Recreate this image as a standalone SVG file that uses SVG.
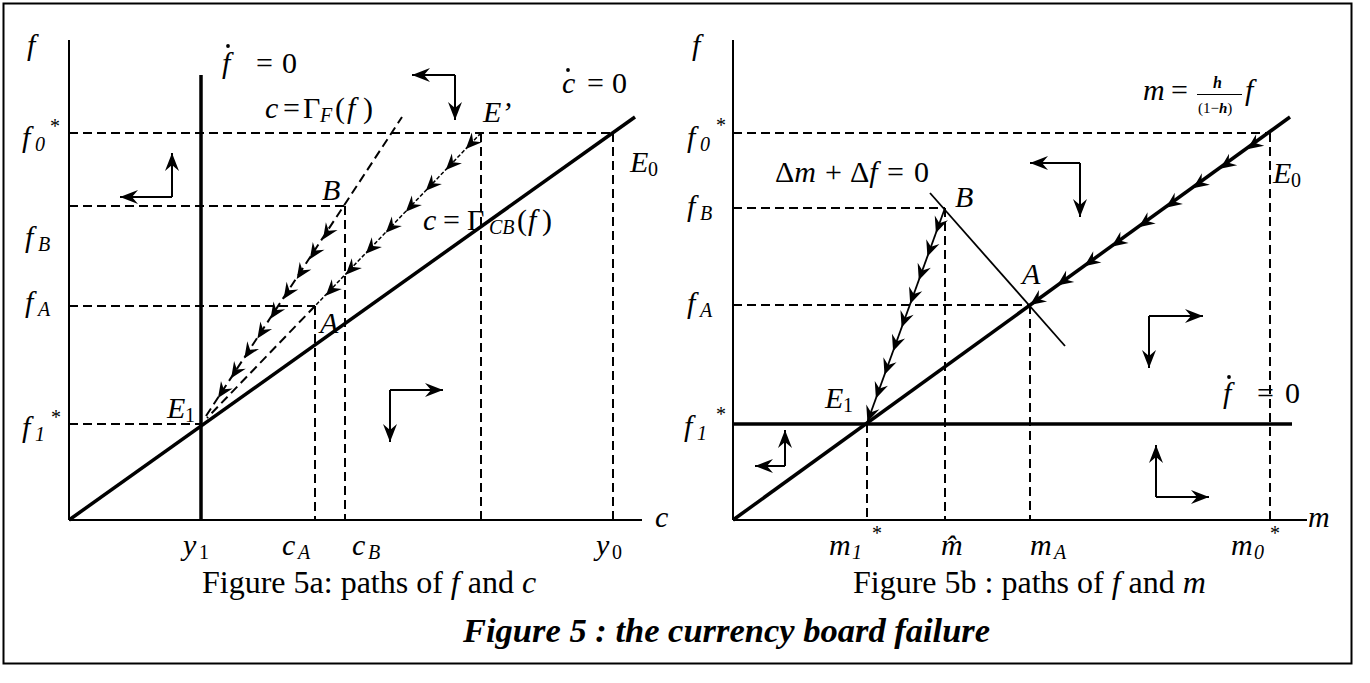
<svg xmlns="http://www.w3.org/2000/svg" width="1370" height="683" viewBox="0 0 1370 683">
<style>
text { font-family: 'Liberation Serif', 'Times New Roman', serif; fill: #000; }
.i { font-style: italic; }
.lbl { font-size: 30px; }
.sub { font-size: 20px; }
.ax { stroke: #000; stroke-width: 2; fill: none; }
.thick { stroke: #000; stroke-width: 3.5; fill: none; }
.thin { stroke: #000; stroke-width: 1.8; fill: none; }
.dash { stroke: #000; stroke-width: 2; stroke-dasharray: 9 5; fill: none; }
.dot { stroke: #000; stroke-width: 1.5; stroke-dasharray: 4 2; fill: none; }
.ph { stroke: #000; stroke-width: 2; fill: none; marker-end: url(#ph); }
.cap { font-size: 32px; }
.title { font-size: 34.5px; font-weight: bold; font-style: italic; }
</style>
<defs>
<marker id="ph" viewBox="-19 -8 20 16" refX="0" refY="0" markerWidth="20" markerHeight="16" markerUnits="userSpaceOnUse" orient="auto">
<path d="M0,0 L-18,-7 L-12,0 L-18,7 Z" fill="#000"/>
</marker>
<path id="pa" d="M0,0 L-16,-7 L-10.5,0 L-16,7 Z" fill="#000"/>
</defs>

<rect id="frame" x="3.5" y="3.5" width="1348" height="660" fill="none" stroke="#000" stroke-width="2"/>

<!-- ===== Panel a ===== -->
<g id="panel-a-axes">
<line class="ax" x1="69" y1="40" x2="69" y2="520"/>
<line class="ax" x1="69" y1="520" x2="642" y2="520"/>
<text class="lbl i" x="27" y="55">f</text>
<text class="lbl i" x="655" y="527">c</text>
</g>

<g id="panel-a-guides">
<line class="dash" x1="69" y1="133" x2="613" y2="133"/>
<line class="dash" x1="69" y1="206" x2="345" y2="206"/>
<line class="dash" x1="69" y1="306" x2="315" y2="306"/>
<line class="dash" x1="69" y1="424" x2="201" y2="424"/>
<line class="dash" x1="315" y1="306" x2="315" y2="520"/>
<line class="dash" x1="345" y1="206" x2="345" y2="520"/>
<line class="dash" x1="481" y1="133" x2="481" y2="520"/>
<line class="dash" x1="613" y1="133" x2="613" y2="520"/>
</g>

<g id="panel-a-curves">
<line class="thick" x1="201" y1="75" x2="201" y2="520"/>
<line class="thick" x1="69" y1="520" x2="635" y2="117"/>
<line class="dash" x1="206" y1="416" x2="402" y2="117"/>
<line class="dash" x1="315" y1="306" x2="207" y2="418"/>
</g>

<g id="connectors">
<line class="dot" x1="481" y1="133" x2="315" y2="306"/>
<g id="path-a-Eprime-A">
<use href="#pa" transform="translate(465.8 148.9) rotate(133.7)"/>
<use href="#pa" transform="translate(445.8 169.9) rotate(133.7)"/>
<use href="#pa" transform="translate(425.8 190.8) rotate(133.7)"/>
<use href="#pa" transform="translate(405.8 211.8) rotate(133.7)"/>
<use href="#pa" transform="translate(385.8 232.8) rotate(133.7)"/>
<use href="#pa" transform="translate(365.8 253.7) rotate(133.7)"/>
<use href="#pa" transform="translate(345.8 274.7) rotate(133.7)"/>
<use href="#pa" transform="translate(325.8 295.7) rotate(133.7)"/>
</g>
<g id="path-a-B-E1">
<use href="#pa" transform="translate(322.9 239.4) rotate(123.5)"/>
<use href="#pa" transform="translate(309.8 259.2) rotate(123.5)"/>
<use href="#pa" transform="translate(296.7 279.1) rotate(123.5)"/>
<use href="#pa" transform="translate(283.6 298.9) rotate(123.5)"/>
<use href="#pa" transform="translate(270.5 318.7) rotate(123.5)"/>
<use href="#pa" transform="translate(257.4 338.6) rotate(123.5)"/>
<use href="#pa" transform="translate(244.3 358.4) rotate(123.5)"/>
<use href="#pa" transform="translate(231.1 378.2) rotate(123.5)"/>
<use href="#pa" transform="translate(218.0 398.1) rotate(123.5)"/>
</g>
<g id="phase-a">
<path class="ph" d="M172,197 L172,153"/>
<path class="ph" d="M172,197 L120,197"/>
<path class="ph" d="M455,75 L412,75"/>
<path class="ph" d="M455,75 L455,120"/>
<path class="ph" d="M390,390 L443,390"/>
<path class="ph" d="M390,390 L390,442"/>
</g>
<line class="thin" x1="945" y1="208" x2="867" y2="423"/>
<g id="path-b-E0-A">
<use href="#pa" transform="translate(1247.2 149.3) rotate(144.4)"/>
<use href="#pa" transform="translate(1220.1 168.8) rotate(144.4)"/>
<use href="#pa" transform="translate(1192.9 188.3) rotate(144.4)"/>
<use href="#pa" transform="translate(1165.8 207.7) rotate(144.4)"/>
<use href="#pa" transform="translate(1138.6 227.2) rotate(144.4)"/>
<use href="#pa" transform="translate(1111.5 246.7) rotate(144.4)"/>
<use href="#pa" transform="translate(1084.3 266.2) rotate(144.4)"/>
<use href="#pa" transform="translate(1057.2 285.6) rotate(144.4)"/>
<use href="#pa" transform="translate(1030.0 305.1) rotate(144.4)"/>
</g>
<g id="path-b-B-E1">
<use href="#pa" transform="translate(935.9 233.0) rotate(109.9)"/>
<use href="#pa" transform="translate(927.4 256.6) rotate(109.9)"/>
<use href="#pa" transform="translate(918.8 280.3) rotate(109.9)"/>
<use href="#pa" transform="translate(910.2 303.9) rotate(109.9)"/>
<use href="#pa" transform="translate(901.6 327.5) rotate(109.9)"/>
<use href="#pa" transform="translate(893.1 351.2) rotate(109.9)"/>
<use href="#pa" transform="translate(884.5 374.8) rotate(109.9)"/>
<use href="#pa" transform="translate(875.9 398.4) rotate(109.9)"/>
<use href="#pa" transform="translate(867.4 422.0) rotate(109.9)"/>
</g>
<g id="phase-b">
<path class="ph" d="M1080,163 L1030,163"/>
<path class="ph" d="M1080,163 L1080,217"/>
<path class="ph" d="M1149,316 L1203,316"/>
<path class="ph" d="M1149,316 L1149,368"/>
<path class="ph" d="M785,466 L785,430"/>
<path class="ph" d="M785,466 L755,466"/>
<path class="ph" d="M1156,497 L1209,497"/>
<path class="ph" d="M1156,497 L1156,445"/>
</g>
</g>

<g id="panel-a-labels">
<g id="lbl-f0a"><text class="lbl i" x="22" y="147">f</text><text class="sub i" x="35" y="151">0</text><text class="sub" x="50" y="133">*</text></g>
<g id="lbl-fBa"><text class="lbl i" x="25" y="247">f</text><text class="sub i" x="38" y="251">B</text></g>
<g id="lbl-fAa"><text class="lbl i" x="25" y="312">f</text><text class="sub i" x="38" y="316">A</text></g>
<g id="lbl-f1a"><text class="lbl i" x="22" y="437">f</text><text class="sub i" x="35" y="441">1</text><text class="sub" x="51" y="424">*</text></g>
<g id="lbl-fdot-a"><text class="lbl" y="73"><tspan class="i" x="222">f</tspan><tspan x="256">=</tspan><tspan x="282">0</tspan></text><circle cx="228" cy="46" r="1.9"/></g>
<g id="lbl-cdot"><text class="lbl" y="93"><tspan class="i" x="562">c</tspan><tspan x="587">=</tspan><tspan x="612">0</tspan></text><circle cx="568" cy="70" r="1.9"/></g>
<g id="lbl-GF"><text class="lbl" y="118"><tspan class="i" x="265">c</tspan><tspan x="283">=</tspan><tspan x="303">Γ</tspan><tspan class="sub i" x="320" y="122">F</tspan><tspan x="335" y="118">(</tspan><tspan class="i" x="347">f</tspan><tspan x="363">)</tspan></text></g>
<g id="lbl-GCB"><text class="lbl" y="230"><tspan class="i" x="423">c</tspan><tspan x="443">=</tspan><tspan x="467">Γ</tspan><tspan class="sub i" x="489" y="234">CB</tspan><tspan x="517" y="230">(</tspan><tspan class="i" x="528">f</tspan><tspan x="542">)</tspan></text></g>
<g id="node-Eprime"><text class="lbl i" x="483" y="122">E’</text></g>
<g id="node-E0a"><text class="lbl i" x="630" y="172">E</text><text class="sub" x="648" y="176">0</text></g>
<g id="node-Ba"><text class="lbl i" x="322" y="200">B</text></g>
<g id="node-Aa"><text class="lbl i" x="320" y="333">A</text></g>
<g id="node-E1a"><text class="lbl i" x="167" y="418">E</text><text class="sub" x="185" y="422">1</text></g>
<g id="ticks-a">
<text class="lbl i" x="183" y="555">y</text><text class="sub" x="199" y="559">1</text>
<text class="lbl i" x="282" y="555">c</text><text class="sub i" x="298" y="559">A</text>
<text class="lbl i" x="352" y="555">c</text><text class="sub i" x="368" y="559">B</text>
<text class="lbl i" x="596" y="555">y</text><text class="sub" x="612" y="559">0</text>
</g>
<text class="cap" x="202" y="593">Figure 5a: paths of <tspan class="i">f</tspan> and <tspan class="i">c</tspan></text>
</g>

<!-- ===== Panel b ===== -->
<g id="panel-b-axes">
<line class="ax" x1="733" y1="40" x2="733" y2="520"/>
<line class="ax" x1="733" y1="520" x2="1307" y2="520"/>
<text class="lbl i" x="692" y="55">f</text>
<text class="lbl i" x="1308" y="527">m</text>
</g>

<g id="panel-b-guides">
<line class="dash" x1="733" y1="133" x2="1270" y2="133"/>
<line class="dash" x1="733" y1="208" x2="945" y2="208"/>
<line class="dash" x1="733" y1="305" x2="1030" y2="305"/>
<line class="dash" x1="867" y1="424" x2="867" y2="520"/>
<line class="dash" x1="945" y1="208" x2="945" y2="520"/>
<line class="dash" x1="1030" y1="305" x2="1030" y2="520"/>
<line class="dash" x1="1270" y1="133" x2="1270" y2="520"/>
</g>

<g id="panel-b-curves">
<line class="thick" x1="733" y1="424" x2="1292" y2="424"/>
<line class="thick" x1="733" y1="520" x2="1290" y2="117"/>
<line class="thin" x1="930" y1="193" x2="1065" y2="346"/>
</g>

<g id="panel-b-labels">
<g id="lbl-f0b"><text class="lbl i" x="687" y="147">f</text><text class="sub i" x="700" y="151">0</text><text class="sub" x="716" y="132">*</text></g>
<g id="lbl-fBb"><text class="lbl i" x="687" y="216">f</text><text class="sub i" x="700" y="220">B</text></g>
<g id="lbl-fAb"><text class="lbl i" x="687" y="313">f</text><text class="sub i" x="700" y="317">A</text></g>
<g id="lbl-f1b"><text class="lbl i" x="684" y="436">f</text><text class="sub i" x="697" y="440">1</text><text class="sub" x="716" y="421">*</text></g>
<g id="lbl-delta"><text class="lbl" y="182"><tspan x="775">Δ</tspan><tspan class="i">m</tspan><tspan x="825">+</tspan><tspan x="850">Δ</tspan><tspan class="i">f</tspan><tspan x="887">=</tspan><tspan x="914">0</tspan></text></g>
<g id="lbl-mfrac">
<text class="lbl" y="100"><tspan class="i" x="1143">m</tspan><tspan x="1171">=</tspan><tspan class="i" x="1245">f</tspan></text>
<text x="1213" y="88" font-size="16" font-weight="bold" font-style="italic">h</text>
<line x1="1197" y1="94.5" x2="1242" y2="94.5" stroke="#000" stroke-width="1"/>
<text x="1198" y="113" font-size="15">(1−<tspan font-weight="bold" font-style="italic">h</tspan>)</text>
</g>
<g id="lbl-fdot-b"><text class="lbl" y="403"><tspan class="i" x="1223">f</tspan><tspan x="1257">=</tspan><tspan x="1285">0</tspan></text><circle cx="1229" cy="377" r="1.9"/></g>
<g id="node-Bb"><text class="lbl i" x="955" y="207">B</text></g>
<g id="node-Ab"><text class="lbl i" x="1022" y="284">A</text></g>
<g id="node-E1b"><text class="lbl i" x="825" y="408">E</text><text class="sub" x="843" y="412">1</text></g>
<g id="node-E0b"><text class="lbl i" x="1273" y="183">E</text><text class="sub" x="1291" y="187">0</text></g>
<g id="ticks-b">
<text class="lbl i" x="829" y="555">m</text><text class="sub i" x="852" y="559">1</text><text class="sub" x="872" y="540">*</text>
<text class="lbl i" x="941" y="555">m̂</text>
<text class="lbl i" x="1030" y="555">m</text><text class="sub i" x="1054" y="559">A</text>
<text class="lbl i" x="1231" y="555">m</text><text class="sub i" x="1254" y="559">0</text><text class="sub" x="1270" y="540">*</text>
</g>
<text class="cap" x="853" y="593">Figure 5b : paths of <tspan class="i">f</tspan> and <tspan class="i">m</tspan></text>
</g>

<text id="title" class="title" x="463" y="642">Figure 5 : the currency board failure</text>
</svg>
